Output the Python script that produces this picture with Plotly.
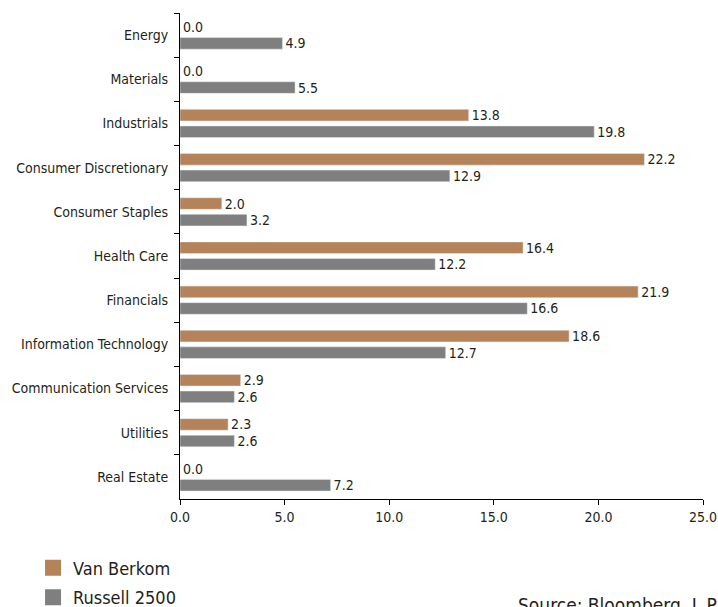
import plotly.graph_objects as go

categories = ["Energy", "Materials", "Industrials", "Consumer Discretionary",
              "Consumer Staples", "Health Care", "Financials",
              "Information Technology", "Communication Services",
              "Utilities", "Real Estate"]
van_berkom = [0.0, 0.0, 13.8, 22.2, 2.0, 16.4, 21.9, 18.6, 2.9, 2.3, 0.0]
russell_2500 = [4.9, 5.5, 19.8, 12.9, 3.2, 12.2, 16.6, 12.7, 2.6, 2.6, 7.2]
series_names = ["Van Berkom", "Russell 2500"]
source_text = "Source: Bloomberg, L.P."

FONT = "DejaVu Sans Condensed, Liberation Sans Narrow, sans-serif"
ORANGE = "#B5835A"
GRAY = "#7F7F7F"
TXT = "#231F20"

fig = go.Figure()
for vals, name, color, grp in [(van_berkom, series_names[0], ORANGE, "a"),
                               (russell_2500, series_names[1], GRAY, "b")]:
    fig.add_trace(go.Bar(
        y=categories, x=vals, orientation="h", name=name,
        marker=dict(color=color), text=[f"{v:.1f}" for v in vals],
        textposition="outside", cliponaxis=False, legendgroup=grp,
        showlegend=False, constraintext="none",
        textfont=dict(size=14, color=TXT, family=FONT)))
    # legend entry with a larger square swatch
    fig.add_trace(go.Scatter(
        x=[None], y=[None], mode="markers", name=name, legendgroup=grp,
        marker=dict(symbol="square", size=20, color=color)))

fig.update_layout(
    width=718, height=607,
    margin=dict(l=180, r=15, t=13, b=108, autoexpand=False),
    plot_bgcolor="white", paper_bgcolor="white",
    font=dict(family=FONT, size=14, color=TXT),
    barmode="group", bargap=0.25, bargroupgap=0.3,
    xaxis=dict(range=[0, 25], dtick=5, tickformat=".1f", showgrid=False,
               zeroline=False, showline=True, linecolor="black", linewidth=1,
               ticks="outside", ticklen=5, tickcolor="black",
               tickfont=dict(size=14), automargin=False,
               ticklabeloverflow="allow"),
    yaxis=dict(autorange="reversed", showgrid=False, showline=True,
               linecolor="black", linewidth=1, ticks="outside",
               tickson="boundaries", ticklen=5, tickcolor="black",
               tickfont=dict(size=14), ticksuffix="  ", automargin=False),
    legend=dict(x=-0.281, y=-0.104, xanchor="left", yanchor="top",
                orientation="v", font=dict(size=18), tracegroupgap=3,
                bgcolor="rgba(0,0,0,0)"),
    annotations=[dict(text=source_text, xref="paper", yref="paper",
                      x=0.642, y=-0.192, xanchor="left", yanchor="top",
                      showarrow=False, font=dict(size=19))],
)

fig.write_html(
    "out.html",
    config={"displayModeBar": False},
    post_script="document.body.style.margin='0';"
                "document.body.style.overflow='hidden';",
)
